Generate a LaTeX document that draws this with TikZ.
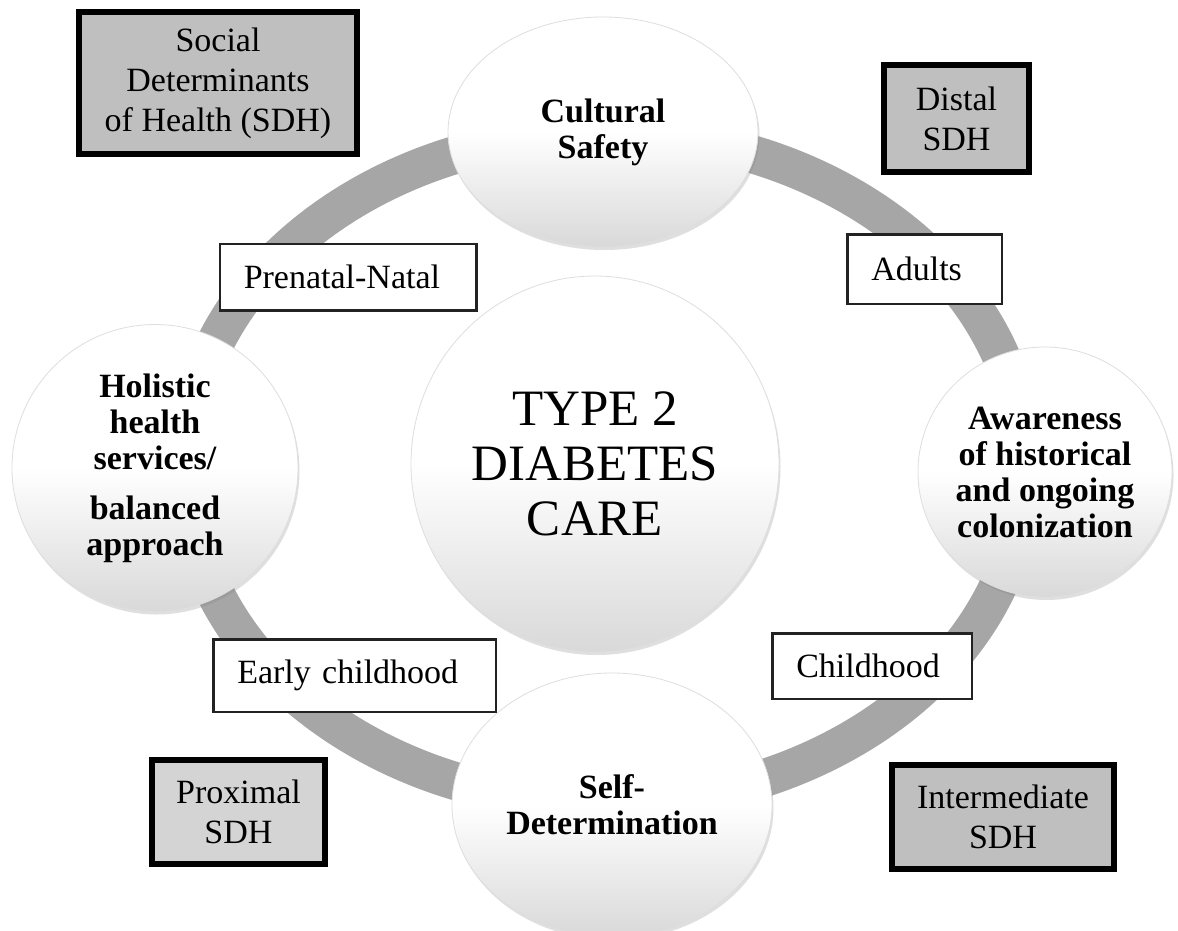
\documentclass[tikz,border=0pt]{standalone}
\usepackage{fontspec}
\setmainfont{Liberation Serif}
\usetikzlibrary{shapes.geometric,shadows}
\definecolor{ringgray}{RGB}{166,166,166}
\definecolor{sdhgray}{RGB}{191,191,191}
\definecolor{sdhlight}{RGB}{212,212,212}
\definecolor{edgegray}{RGB}{34,34,34}
\definecolor{rimgray}{RGB}{222,222,222}

\begin{document}
\begin{tikzpicture}[x=1pt,y=-1pt]
        \tikzstyle{every node}=[font=\fontsize{34}{40}\selectfont]
        \tikzstyle{bubble}=[ellipse, draw=rimgray, line width=0.8pt, top color=white, bottom color=black!15, middle color=white,
            inner sep=0pt, align=center, font=\bfseries\fontsize{34}{36}\selectfont,
            drop shadow={shadow xshift=1.5pt, shadow yshift=-3pt, opacity=0.25}]
        \tikzstyle{sdh}=[draw=black, line width=6pt, fill=sdhgray, align=center, inner sep=0pt]
        \tikzstyle{stage}=[draw=edgegray, line width=2.5pt, fill=white, inner xsep=24pt, inner ysep=0pt, align=left]
        \begin{scope}
       \clip (0,0) rectangle (1178,930);
       \fill[white] (0,0) rectangle (1178,930);

       % cycle ring
       \coordinate (ringc) at (605,468);
       \draw[ringgray, line width=38pt] (ringc) ellipse [x radius=420pt, y radius=335pt];

       % centre and the four principles
       \node[bubble, minimum width=368pt, minimum height=376pt, font=\fontsize{51}{55}\selectfont]
            (care) at (595,464) {TYPE 2\\DIABETES\\CARE};
       \node[bubble, minimum width=310pt, minimum height=230pt] (cult) at (603,132) {Cultural\\Safety};
       \node[bubble, minimum width=286pt, minimum height=287pt] (holi) at (155,468)
            {Holistic\\health\\services/\\[14pt]balanced\\approach};
       \node[bubble, minimum width=254pt, minimum height=250pt] (aware) at (1045,472)
            {Awareness\\of historical\\and ongoing\\colonization};
       \node[bubble, minimum width=320pt, minimum height=264pt] (selfdet) at (612,805) {Self-\\Determination};

       % life stages
       \node[stage, text width=208.5pt, minimum height=66.5pt] (prenatal) at (348,277) {Prenatal-Natal};
       \node[stage, text width=106.5pt, minimum height=69.5pt] (adults) at (924.5,269) {Adults};
       \node[stage, text width=234.5pt, minimum height=72.5pt] (early) at (354.5,675.5) {Early childhood};
       \node[stage, text width=151.5pt, minimum height=65.5pt] (child) at (872,666) {Childhood};

       % determinants
       \node[sdh, minimum width=278pt, minimum height=142pt] (sdhall) at (218,83)
            {Social\\Determinants\\of Health (SDH)};
       \node[sdh, minimum width=145pt, minimum height=107pt] (distal) at (956.5,118.5) {Distal\\SDH};
       \node[sdh, fill=sdhlight, minimum width=173pt, minimum height=104pt] (proximal) at (238.5,812) {Proximal\\SDH};
       \node[sdh, minimum width=222pt, minimum height=104pt] (intermed) at (1003,817) {Intermediate\\SDH};
     \end{scope}
  \end{tikzpicture}
\end{document}
